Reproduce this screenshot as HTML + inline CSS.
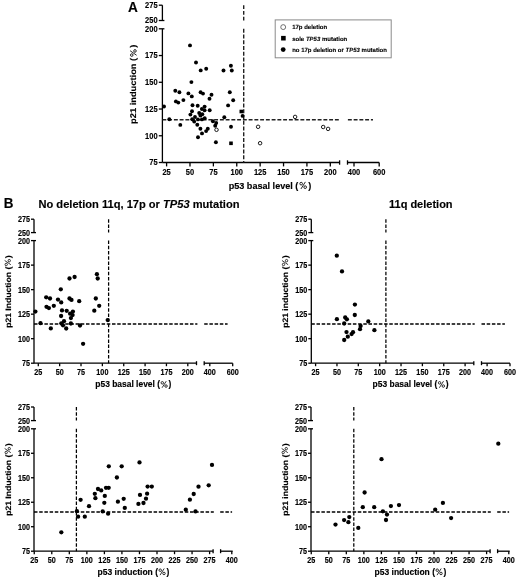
<!DOCTYPE html>
<html><head><meta charset="utf-8"><style>
html,body{margin:0;padding:0;background:#fff;}
svg{display:block;filter:blur(0.35px);}
text{font-family:"Liberation Sans", sans-serif;fill:#000;stroke:#000;stroke-width:0.15px;}
.pct{fill-opacity:0;stroke-opacity:0;}
</style></head><body>
<svg width="520" height="579" viewBox="0 0 520 579">
<line x1="162.40" y1="5.20" x2="162.40" y2="20.50" stroke-width="1.3"  stroke="#000"/>
<line x1="162.40" y1="28.80" x2="162.40" y2="162.50" stroke-width="1.3"  stroke="#000"/>
<line x1="158.80" y1="5.20" x2="162.40" y2="5.20" stroke-width="1.3"  stroke="#000"/>
<text transform="translate(157.60,8.14) scale(0.915,1)" font-size="8.2" text-anchor="end" font-weight="bold">275</text>
<line x1="158.80" y1="20.50" x2="164.40" y2="20.50" stroke-width="1.3"  stroke="#000"/>
<text transform="translate(157.60,23.44) scale(0.915,1)" font-size="8.2" text-anchor="end" font-weight="bold">250</text>
<line x1="158.80" y1="28.80" x2="164.40" y2="28.80" stroke-width="1.3"  stroke="#000"/>
<text transform="translate(157.60,31.74) scale(0.915,1)" font-size="8.2" text-anchor="end" font-weight="bold">200</text>
<line x1="158.80" y1="55.54" x2="162.40" y2="55.54" stroke-width="1.3"  stroke="#000"/>
<text transform="translate(157.60,58.48) scale(0.915,1)" font-size="8.2" text-anchor="end" font-weight="bold">175</text>
<line x1="158.80" y1="82.28" x2="162.40" y2="82.28" stroke-width="1.3"  stroke="#000"/>
<text transform="translate(157.60,85.22) scale(0.915,1)" font-size="8.2" text-anchor="end" font-weight="bold">150</text>
<line x1="158.80" y1="109.02" x2="162.40" y2="109.02" stroke-width="1.3"  stroke="#000"/>
<text transform="translate(157.60,111.96) scale(0.915,1)" font-size="8.2" text-anchor="end" font-weight="bold">125</text>
<line x1="158.80" y1="135.76" x2="162.40" y2="135.76" stroke-width="1.3"  stroke="#000"/>
<text transform="translate(157.60,138.70) scale(0.915,1)" font-size="8.2" text-anchor="end" font-weight="bold">100</text>
<line x1="158.80" y1="162.50" x2="162.40" y2="162.50" stroke-width="1.3"  stroke="#000"/>
<text transform="translate(157.60,165.44) scale(0.915,1)" font-size="8.2" text-anchor="end" font-weight="bold">75</text>
<line x1="162.40" y1="162.50" x2="339.60" y2="162.50" stroke-width="1.3"  stroke="#000"/>
<line x1="347.50" y1="162.50" x2="379.20" y2="162.50" stroke-width="1.3"  stroke="#000"/>
<line x1="339.60" y1="160.30" x2="339.60" y2="164.70" stroke-width="1.3"  stroke="#000"/>
<line x1="347.50" y1="160.30" x2="347.50" y2="164.70" stroke-width="1.3"  stroke="#000"/>
<line x1="166.60" y1="162.50" x2="166.60" y2="166.40" stroke-width="1.3"  stroke="#000"/>
<text transform="translate(166.60,174.60) scale(0.915,1)" font-size="8.2" text-anchor="middle" font-weight="bold">25</text>
<line x1="189.99" y1="162.50" x2="189.99" y2="166.40" stroke-width="1.3"  stroke="#000"/>
<text transform="translate(189.99,174.60) scale(0.915,1)" font-size="8.2" text-anchor="middle" font-weight="bold">50</text>
<line x1="213.38" y1="162.50" x2="213.38" y2="166.40" stroke-width="1.3"  stroke="#000"/>
<text transform="translate(213.38,174.60) scale(0.915,1)" font-size="8.2" text-anchor="middle" font-weight="bold">75</text>
<line x1="236.76" y1="162.50" x2="236.76" y2="166.40" stroke-width="1.3"  stroke="#000"/>
<text transform="translate(236.76,174.60) scale(0.915,1)" font-size="8.2" text-anchor="middle" font-weight="bold">100</text>
<line x1="260.15" y1="162.50" x2="260.15" y2="166.40" stroke-width="1.3"  stroke="#000"/>
<text transform="translate(260.15,174.60) scale(0.915,1)" font-size="8.2" text-anchor="middle" font-weight="bold">125</text>
<line x1="283.54" y1="162.50" x2="283.54" y2="166.40" stroke-width="1.3"  stroke="#000"/>
<text transform="translate(283.54,174.60) scale(0.915,1)" font-size="8.2" text-anchor="middle" font-weight="bold">150</text>
<line x1="306.92" y1="162.50" x2="306.92" y2="166.40" stroke-width="1.3"  stroke="#000"/>
<text transform="translate(306.92,174.60) scale(0.915,1)" font-size="8.2" text-anchor="middle" font-weight="bold">175</text>
<line x1="330.31" y1="162.50" x2="330.31" y2="166.40" stroke-width="1.3"  stroke="#000"/>
<text transform="translate(330.31,174.60) scale(0.915,1)" font-size="8.2" text-anchor="middle" font-weight="bold">200</text>
<line x1="354.00" y1="162.50" x2="354.00" y2="166.40" stroke-width="1.3"  stroke="#000"/>
<text transform="translate(354.00,174.60) scale(0.915,1)" font-size="8.2" text-anchor="middle" font-weight="bold">400</text>
<line x1="379.20" y1="162.50" x2="379.20" y2="166.40" stroke-width="1.3"  stroke="#000"/>
<text transform="translate(379.20,174.60) scale(0.915,1)" font-size="8.2" text-anchor="middle" font-weight="bold">600</text>
<line x1="162.40" y1="119.80" x2="339.60" y2="119.80" stroke-width="1.5" stroke-dasharray="3.9 1.85" stroke="#222"/>
<line x1="347.90" y1="119.80" x2="373.00" y2="119.80" stroke-width="1.5" stroke-dasharray="3.9 1.85" stroke="#222"/>
<line x1="243.70" y1="5.20" x2="243.70" y2="20.50" stroke-width="1.4" stroke-dasharray="3.9 1.85" stroke="#222"/>
<line x1="243.70" y1="28.80" x2="243.70" y2="162.50" stroke-width="1.4" stroke-dasharray="3.9 1.85" stroke="#222"/>
<text x="270.00" y="188.60" font-size="9.1" text-anchor="middle" font-weight="bold" >p53 basal level (<tspan dx="0.7" class="pct">%</tspan><tspan dx="1.1">)</tspan></text>
<text x="0.00" y="0.00" font-size="9.3" text-anchor="middle" font-weight="bold" transform="translate(136.30,84.30) rotate(-90) scale(1,0.9)" style="text-rendering:geometricPrecision">p21 induction (<tspan dx="0.7" class="pct">%</tspan><tspan dx="1.1">)</tspan></text>
<circle cx="190.0" cy="45.4" r="1.95"/>
<circle cx="196.0" cy="62.5" r="1.95"/>
<circle cx="200.7" cy="70.4" r="1.95"/>
<circle cx="206.2" cy="68.7" r="1.95"/>
<circle cx="191.4" cy="82.1" r="1.95"/>
<circle cx="175.3" cy="90.8" r="1.95"/>
<circle cx="179.4" cy="92.2" r="1.95"/>
<circle cx="188.4" cy="93.4" r="1.95"/>
<circle cx="200.6" cy="92.2" r="1.95"/>
<circle cx="203.0" cy="93.6" r="1.95"/>
<circle cx="211.5" cy="94.8" r="1.95"/>
<circle cx="209.5" cy="98.7" r="1.95"/>
<circle cx="191.8" cy="96.4" r="1.95"/>
<circle cx="183.4" cy="100.1" r="1.95"/>
<circle cx="175.9" cy="101.4" r="1.95"/>
<circle cx="178.3" cy="102.6" r="1.95"/>
<circle cx="164.0" cy="106.5" r="1.95"/>
<circle cx="192.5" cy="105.2" r="1.95"/>
<circle cx="197.7" cy="105.8" r="1.95"/>
<circle cx="204.6" cy="106.6" r="1.95"/>
<circle cx="201.9" cy="109.0" r="1.95"/>
<circle cx="204.6" cy="110.3" r="1.95"/>
<circle cx="209.7" cy="110.3" r="1.95"/>
<circle cx="192.0" cy="111.3" r="1.95"/>
<circle cx="190.4" cy="114.6" r="1.95"/>
<circle cx="199.2" cy="113.0" r="1.95"/>
<circle cx="202.3" cy="114.2" r="1.95"/>
<circle cx="200.4" cy="115.5" r="1.95"/>
<circle cx="195.0" cy="117.0" r="1.95"/>
<circle cx="192.2" cy="119.2" r="1.95"/>
<circle cx="194.2" cy="121.6" r="1.95"/>
<circle cx="197.9" cy="119.4" r="1.95"/>
<circle cx="201.9" cy="119.4" r="1.95"/>
<circle cx="204.7" cy="118.3" r="1.95"/>
<circle cx="197.3" cy="124.7" r="1.95"/>
<circle cx="200.4" cy="128.8" r="1.95"/>
<circle cx="207.8" cy="128.8" r="1.95"/>
<circle cx="206.1" cy="131.1" r="1.95"/>
<circle cx="202.0" cy="133.4" r="1.95"/>
<circle cx="198.0" cy="137.3" r="1.95"/>
<circle cx="215.9" cy="142.2" r="1.95"/>
<circle cx="212.9" cy="121.3" r="1.95"/>
<circle cx="216.2" cy="123.0" r="1.95"/>
<circle cx="215.2" cy="125.8" r="1.95"/>
<circle cx="224.3" cy="117.2" r="1.95"/>
<circle cx="229.8" cy="92.3" r="1.95"/>
<circle cx="233.2" cy="100.3" r="1.95"/>
<circle cx="228.1" cy="105.4" r="1.95"/>
<circle cx="223.5" cy="70.5" r="1.95"/>
<circle cx="230.9" cy="65.8" r="1.95"/>
<circle cx="231.8" cy="70.5" r="1.95"/>
<circle cx="231.0" cy="126.8" r="1.95"/>
<circle cx="242.6" cy="115.9" r="1.95"/>
<circle cx="169.3" cy="119.3" r="1.95"/>
<circle cx="180.3" cy="124.9" r="1.95"/>
<circle cx="216.5" cy="129.8" r="1.75" fill="#fff" stroke="#000" stroke-width="0.9"/>
<circle cx="258.1" cy="126.8" r="1.75" fill="#fff" stroke="#000" stroke-width="0.9"/>
<circle cx="260.1" cy="143.2" r="1.75" fill="#fff" stroke="#000" stroke-width="0.9"/>
<circle cx="295.1" cy="116.9" r="1.75" fill="#fff" stroke="#000" stroke-width="0.9"/>
<circle cx="323.2" cy="127.0" r="1.75" fill="#fff" stroke="#000" stroke-width="0.9"/>
<circle cx="328.1" cy="128.9" r="1.75" fill="#fff" stroke="#000" stroke-width="0.9"/>
<rect x="239.5" y="109.7" width="3.6" height="3.6"/>
<rect x="229.2" y="141.5" width="3.6" height="3.6"/>
<line x1="34.00" y1="219.20" x2="34.00" y2="232.60" stroke-width="1.3"  stroke="#000"/>
<line x1="34.00" y1="240.60" x2="34.00" y2="363.20" stroke-width="1.3"  stroke="#000"/>
<line x1="31.00" y1="219.20" x2="34.00" y2="219.20" stroke-width="1.3"  stroke="#000"/>
<text transform="translate(30.00,222.21) scale(0.86,1)" font-size="8.4" text-anchor="end" font-weight="bold">275</text>
<line x1="31.00" y1="232.60" x2="36.00" y2="232.60" stroke-width="1.3"  stroke="#000"/>
<text transform="translate(30.00,235.61) scale(0.86,1)" font-size="8.4" text-anchor="end" font-weight="bold">250</text>
<line x1="31.00" y1="240.60" x2="36.00" y2="240.60" stroke-width="1.3"  stroke="#000"/>
<text transform="translate(30.00,243.61) scale(0.86,1)" font-size="8.4" text-anchor="end" font-weight="bold">200</text>
<line x1="31.00" y1="265.12" x2="34.00" y2="265.12" stroke-width="1.3"  stroke="#000"/>
<text transform="translate(30.00,268.13) scale(0.86,1)" font-size="8.4" text-anchor="end" font-weight="bold">175</text>
<line x1="31.00" y1="289.64" x2="34.00" y2="289.64" stroke-width="1.3"  stroke="#000"/>
<text transform="translate(30.00,292.65) scale(0.86,1)" font-size="8.4" text-anchor="end" font-weight="bold">150</text>
<line x1="31.00" y1="314.16" x2="34.00" y2="314.16" stroke-width="1.3"  stroke="#000"/>
<text transform="translate(30.00,317.17) scale(0.86,1)" font-size="8.4" text-anchor="end" font-weight="bold">125</text>
<line x1="31.00" y1="338.68" x2="34.00" y2="338.68" stroke-width="1.3"  stroke="#000"/>
<text transform="translate(30.00,341.69) scale(0.86,1)" font-size="8.4" text-anchor="end" font-weight="bold">100</text>
<line x1="31.00" y1="363.20" x2="34.00" y2="363.20" stroke-width="1.3"  stroke="#000"/>
<text transform="translate(30.00,366.21) scale(0.86,1)" font-size="8.4" text-anchor="end" font-weight="bold">75</text>
<line x1="34.00" y1="363.20" x2="196.50" y2="363.20" stroke-width="1.3"  stroke="#000"/>
<line x1="204.20" y1="363.20" x2="232.70" y2="363.20" stroke-width="1.3"  stroke="#000"/>
<line x1="196.50" y1="361.20" x2="196.50" y2="365.20" stroke-width="1.3"  stroke="#000"/>
<line x1="204.20" y1="361.20" x2="204.20" y2="365.20" stroke-width="1.3"  stroke="#000"/>
<line x1="38.30" y1="363.20" x2="38.30" y2="366.20" stroke-width="1.3"  stroke="#000"/>
<text transform="translate(38.30,374.90) scale(0.86,1)" font-size="8.4" text-anchor="middle" font-weight="bold">25</text>
<line x1="59.66" y1="363.20" x2="59.66" y2="366.20" stroke-width="1.3"  stroke="#000"/>
<text transform="translate(59.66,374.90) scale(0.86,1)" font-size="8.4" text-anchor="middle" font-weight="bold">50</text>
<line x1="81.01" y1="363.20" x2="81.01" y2="366.20" stroke-width="1.3"  stroke="#000"/>
<text transform="translate(81.01,374.90) scale(0.86,1)" font-size="8.4" text-anchor="middle" font-weight="bold">75</text>
<line x1="102.37" y1="363.20" x2="102.37" y2="366.20" stroke-width="1.3"  stroke="#000"/>
<text transform="translate(102.37,374.90) scale(0.86,1)" font-size="8.4" text-anchor="middle" font-weight="bold">100</text>
<line x1="123.73" y1="363.20" x2="123.73" y2="366.20" stroke-width="1.3"  stroke="#000"/>
<text transform="translate(123.73,374.90) scale(0.86,1)" font-size="8.4" text-anchor="middle" font-weight="bold">125</text>
<line x1="145.09" y1="363.20" x2="145.09" y2="366.20" stroke-width="1.3"  stroke="#000"/>
<text transform="translate(145.09,374.90) scale(0.86,1)" font-size="8.4" text-anchor="middle" font-weight="bold">150</text>
<line x1="166.44" y1="363.20" x2="166.44" y2="366.20" stroke-width="1.3"  stroke="#000"/>
<text transform="translate(166.44,374.90) scale(0.86,1)" font-size="8.4" text-anchor="middle" font-weight="bold">175</text>
<line x1="187.80" y1="363.20" x2="187.80" y2="366.20" stroke-width="1.3"  stroke="#000"/>
<text transform="translate(187.80,374.90) scale(0.86,1)" font-size="8.4" text-anchor="middle" font-weight="bold">200</text>
<line x1="209.80" y1="363.20" x2="209.80" y2="366.20" stroke-width="1.3"  stroke="#000"/>
<text transform="translate(209.80,374.90) scale(0.86,1)" font-size="8.4" text-anchor="middle" font-weight="bold">400</text>
<line x1="232.70" y1="363.20" x2="232.70" y2="366.20" stroke-width="1.3"  stroke="#000"/>
<text transform="translate(232.70,374.90) scale(0.86,1)" font-size="8.4" text-anchor="middle" font-weight="bold">600</text>
<line x1="34.00" y1="323.90" x2="197.40" y2="323.90" stroke-width="1.45" stroke-dasharray="3.5 1.7" stroke="#000"/>
<line x1="204.20" y1="323.90" x2="227.60" y2="323.90" stroke-width="1.45" stroke-dasharray="3.5 1.7" stroke="#000"/>
<line x1="108.60" y1="219.20" x2="108.60" y2="232.60" stroke-width="1.25" stroke-dasharray="3.5 1.7" stroke="#000"/>
<line x1="108.60" y1="240.60" x2="108.60" y2="363.20" stroke-width="1.25" stroke-dasharray="3.5 1.7" stroke="#000"/>
<text x="133.30" y="387.40" font-size="8.45" text-anchor="middle" font-weight="bold" >p53 basal level (<tspan dx="0.35" class="pct">%</tspan><tspan dx="0.55">)</tspan></text>
<text x="0.00" y="0.00" font-size="8.6" text-anchor="middle" font-weight="bold" transform="translate(10.50,291.60) rotate(-90) scale(1,0.92)" style="text-rendering:geometricPrecision">p21 Induction (<tspan dx="0.35" class="pct">%</tspan><tspan dx="0.55">)</tspan></text>
<circle cx="69.5" cy="278.5" r="2.15"/>
<circle cx="74.6" cy="277.0" r="2.15"/>
<circle cx="96.9" cy="274.2" r="2.15"/>
<circle cx="97.7" cy="278.5" r="2.15"/>
<circle cx="60.8" cy="289.3" r="2.15"/>
<circle cx="46.2" cy="297.3" r="2.15"/>
<circle cx="50.0" cy="298.5" r="2.15"/>
<circle cx="58.0" cy="299.6" r="2.15"/>
<circle cx="61.2" cy="302.4" r="2.15"/>
<circle cx="69.5" cy="298.5" r="2.15"/>
<circle cx="71.5" cy="299.9" r="2.15"/>
<circle cx="79.2" cy="301.2" r="2.15"/>
<circle cx="95.8" cy="298.5" r="2.15"/>
<circle cx="99.2" cy="305.8" r="2.15"/>
<circle cx="46.5" cy="306.8" r="2.15"/>
<circle cx="48.9" cy="308.1" r="2.15"/>
<circle cx="53.8" cy="305.8" r="2.15"/>
<circle cx="35.4" cy="311.6" r="2.15"/>
<circle cx="62.0" cy="310.4" r="2.15"/>
<circle cx="66.7" cy="310.8" r="2.15"/>
<circle cx="72.9" cy="311.6" r="2.15"/>
<circle cx="70.1" cy="313.7" r="2.15"/>
<circle cx="72.6" cy="315.1" r="2.15"/>
<circle cx="61.1" cy="316.0" r="2.15"/>
<circle cx="70.9" cy="318.1" r="2.15"/>
<circle cx="94.3" cy="310.7" r="2.15"/>
<circle cx="107.7" cy="320.1" r="2.15"/>
<circle cx="40.5" cy="323.2" r="2.15"/>
<circle cx="64.0" cy="321.2" r="2.15"/>
<circle cx="61.3" cy="323.3" r="2.15"/>
<circle cx="63.0" cy="325.3" r="2.15"/>
<circle cx="70.9" cy="323.5" r="2.15"/>
<circle cx="80.0" cy="325.5" r="2.15"/>
<circle cx="50.8" cy="328.4" r="2.15"/>
<circle cx="66.2" cy="328.5" r="2.15"/>
<circle cx="83.1" cy="343.8" r="2.15"/>
<line x1="311.30" y1="219.20" x2="311.30" y2="232.60" stroke-width="1.3"  stroke="#000"/>
<line x1="311.30" y1="240.60" x2="311.30" y2="363.20" stroke-width="1.3"  stroke="#000"/>
<line x1="308.30" y1="219.20" x2="311.30" y2="219.20" stroke-width="1.3"  stroke="#000"/>
<text transform="translate(307.30,222.21) scale(0.86,1)" font-size="8.4" text-anchor="end" font-weight="bold">275</text>
<line x1="308.30" y1="232.60" x2="313.30" y2="232.60" stroke-width="1.3"  stroke="#000"/>
<text transform="translate(307.30,235.61) scale(0.86,1)" font-size="8.4" text-anchor="end" font-weight="bold">250</text>
<line x1="308.30" y1="240.60" x2="313.30" y2="240.60" stroke-width="1.3"  stroke="#000"/>
<text transform="translate(307.30,243.61) scale(0.86,1)" font-size="8.4" text-anchor="end" font-weight="bold">200</text>
<line x1="308.30" y1="265.12" x2="311.30" y2="265.12" stroke-width="1.3"  stroke="#000"/>
<text transform="translate(307.30,268.13) scale(0.86,1)" font-size="8.4" text-anchor="end" font-weight="bold">175</text>
<line x1="308.30" y1="289.64" x2="311.30" y2="289.64" stroke-width="1.3"  stroke="#000"/>
<text transform="translate(307.30,292.65) scale(0.86,1)" font-size="8.4" text-anchor="end" font-weight="bold">150</text>
<line x1="308.30" y1="314.16" x2="311.30" y2="314.16" stroke-width="1.3"  stroke="#000"/>
<text transform="translate(307.30,317.17) scale(0.86,1)" font-size="8.4" text-anchor="end" font-weight="bold">125</text>
<line x1="308.30" y1="338.68" x2="311.30" y2="338.68" stroke-width="1.3"  stroke="#000"/>
<text transform="translate(307.30,341.69) scale(0.86,1)" font-size="8.4" text-anchor="end" font-weight="bold">100</text>
<line x1="308.30" y1="363.20" x2="311.30" y2="363.20" stroke-width="1.3"  stroke="#000"/>
<text transform="translate(307.30,366.21) scale(0.86,1)" font-size="8.4" text-anchor="end" font-weight="bold">75</text>
<line x1="311.30" y1="363.20" x2="473.80" y2="363.20" stroke-width="1.3"  stroke="#000"/>
<line x1="481.50" y1="363.20" x2="510.00" y2="363.20" stroke-width="1.3"  stroke="#000"/>
<line x1="473.80" y1="361.20" x2="473.80" y2="365.20" stroke-width="1.3"  stroke="#000"/>
<line x1="481.50" y1="361.20" x2="481.50" y2="365.20" stroke-width="1.3"  stroke="#000"/>
<line x1="315.60" y1="363.20" x2="315.60" y2="366.20" stroke-width="1.3"  stroke="#000"/>
<text transform="translate(315.60,374.90) scale(0.86,1)" font-size="8.4" text-anchor="middle" font-weight="bold">25</text>
<line x1="336.96" y1="363.20" x2="336.96" y2="366.20" stroke-width="1.3"  stroke="#000"/>
<text transform="translate(336.96,374.90) scale(0.86,1)" font-size="8.4" text-anchor="middle" font-weight="bold">50</text>
<line x1="358.31" y1="363.20" x2="358.31" y2="366.20" stroke-width="1.3"  stroke="#000"/>
<text transform="translate(358.31,374.90) scale(0.86,1)" font-size="8.4" text-anchor="middle" font-weight="bold">75</text>
<line x1="379.67" y1="363.20" x2="379.67" y2="366.20" stroke-width="1.3"  stroke="#000"/>
<text transform="translate(379.67,374.90) scale(0.86,1)" font-size="8.4" text-anchor="middle" font-weight="bold">100</text>
<line x1="401.03" y1="363.20" x2="401.03" y2="366.20" stroke-width="1.3"  stroke="#000"/>
<text transform="translate(401.03,374.90) scale(0.86,1)" font-size="8.4" text-anchor="middle" font-weight="bold">125</text>
<line x1="422.39" y1="363.20" x2="422.39" y2="366.20" stroke-width="1.3"  stroke="#000"/>
<text transform="translate(422.39,374.90) scale(0.86,1)" font-size="8.4" text-anchor="middle" font-weight="bold">150</text>
<line x1="443.75" y1="363.20" x2="443.75" y2="366.20" stroke-width="1.3"  stroke="#000"/>
<text transform="translate(443.75,374.90) scale(0.86,1)" font-size="8.4" text-anchor="middle" font-weight="bold">175</text>
<line x1="465.10" y1="363.20" x2="465.10" y2="366.20" stroke-width="1.3"  stroke="#000"/>
<text transform="translate(465.10,374.90) scale(0.86,1)" font-size="8.4" text-anchor="middle" font-weight="bold">200</text>
<line x1="487.10" y1="363.20" x2="487.10" y2="366.20" stroke-width="1.3"  stroke="#000"/>
<text transform="translate(487.10,374.90) scale(0.86,1)" font-size="8.4" text-anchor="middle" font-weight="bold">400</text>
<line x1="510.00" y1="363.20" x2="510.00" y2="366.20" stroke-width="1.3"  stroke="#000"/>
<text transform="translate(510.00,374.90) scale(0.86,1)" font-size="8.4" text-anchor="middle" font-weight="bold">600</text>
<line x1="311.30" y1="323.90" x2="474.70" y2="323.90" stroke-width="1.45" stroke-dasharray="3.5 1.7" stroke="#000"/>
<line x1="481.50" y1="323.90" x2="504.90" y2="323.90" stroke-width="1.45" stroke-dasharray="3.5 1.7" stroke="#000"/>
<line x1="385.90" y1="219.20" x2="385.90" y2="232.60" stroke-width="1.25" stroke-dasharray="3.5 1.7" stroke="#000"/>
<line x1="385.90" y1="240.60" x2="385.90" y2="363.20" stroke-width="1.25" stroke-dasharray="3.5 1.7" stroke="#000"/>
<text x="410.60" y="387.40" font-size="8.45" text-anchor="middle" font-weight="bold" >p53 basal level (<tspan dx="0.35" class="pct">%</tspan><tspan dx="0.55">)</tspan></text>
<text x="0.00" y="0.00" font-size="8.6" text-anchor="middle" font-weight="bold" transform="translate(287.80,291.60) rotate(-90) scale(1,0.92)" style="text-rendering:geometricPrecision">p21 induction (<tspan dx="0.35" class="pct">%</tspan><tspan dx="0.55">)</tspan></text>
<circle cx="336.8" cy="255.7" r="2.15"/>
<circle cx="342.0" cy="271.4" r="2.15"/>
<circle cx="354.9" cy="304.6" r="2.15"/>
<circle cx="354.8" cy="315.0" r="2.15"/>
<circle cx="336.9" cy="319.2" r="2.15"/>
<circle cx="345.2" cy="317.5" r="2.15"/>
<circle cx="346.9" cy="319.3" r="2.15"/>
<circle cx="344.2" cy="323.5" r="2.15"/>
<circle cx="368.3" cy="321.4" r="2.15"/>
<circle cx="360.6" cy="326.0" r="2.15"/>
<circle cx="360.0" cy="329.2" r="2.15"/>
<circle cx="374.4" cy="330.2" r="2.15"/>
<circle cx="346.5" cy="332.1" r="2.15"/>
<circle cx="353.0" cy="332.2" r="2.15"/>
<circle cx="351.6" cy="334.1" r="2.15"/>
<circle cx="347.8" cy="336.7" r="2.15"/>
<circle cx="344.2" cy="340.0" r="2.15"/>
<line x1="34.00" y1="407.00" x2="34.00" y2="420.60" stroke-width="1.3"  stroke="#000"/>
<line x1="34.00" y1="428.80" x2="34.00" y2="551.20" stroke-width="1.3"  stroke="#000"/>
<line x1="31.00" y1="407.00" x2="34.00" y2="407.00" stroke-width="1.3"  stroke="#000"/>
<text transform="translate(30.00,410.01) scale(0.86,1)" font-size="8.4" text-anchor="end" font-weight="bold">275</text>
<line x1="31.00" y1="420.60" x2="36.00" y2="420.60" stroke-width="1.3"  stroke="#000"/>
<text transform="translate(30.00,423.61) scale(0.86,1)" font-size="8.4" text-anchor="end" font-weight="bold">250</text>
<line x1="31.00" y1="428.80" x2="36.00" y2="428.80" stroke-width="1.3"  stroke="#000"/>
<text transform="translate(30.00,431.81) scale(0.86,1)" font-size="8.4" text-anchor="end" font-weight="bold">200</text>
<line x1="31.00" y1="453.28" x2="34.00" y2="453.28" stroke-width="1.3"  stroke="#000"/>
<text transform="translate(30.00,456.29) scale(0.86,1)" font-size="8.4" text-anchor="end" font-weight="bold">175</text>
<line x1="31.00" y1="477.76" x2="34.00" y2="477.76" stroke-width="1.3"  stroke="#000"/>
<text transform="translate(30.00,480.77) scale(0.86,1)" font-size="8.4" text-anchor="end" font-weight="bold">150</text>
<line x1="31.00" y1="502.24" x2="34.00" y2="502.24" stroke-width="1.3"  stroke="#000"/>
<text transform="translate(30.00,505.25) scale(0.86,1)" font-size="8.4" text-anchor="end" font-weight="bold">125</text>
<line x1="31.00" y1="526.72" x2="34.00" y2="526.72" stroke-width="1.3"  stroke="#000"/>
<text transform="translate(30.00,529.73) scale(0.86,1)" font-size="8.4" text-anchor="end" font-weight="bold">100</text>
<line x1="31.00" y1="551.20" x2="34.00" y2="551.20" stroke-width="1.3"  stroke="#000"/>
<text transform="translate(30.00,554.21) scale(0.86,1)" font-size="8.4" text-anchor="end" font-weight="bold">75</text>
<line x1="34.00" y1="551.20" x2="213.10" y2="551.20" stroke-width="1.3"  stroke="#000"/>
<line x1="220.60" y1="551.20" x2="232.70" y2="551.20" stroke-width="1.3"  stroke="#000"/>
<line x1="213.10" y1="549.20" x2="213.10" y2="553.20" stroke-width="1.3"  stroke="#000"/>
<line x1="220.60" y1="549.20" x2="220.60" y2="553.20" stroke-width="1.3"  stroke="#000"/>
<line x1="34.25" y1="551.20" x2="34.25" y2="554.20" stroke-width="1.3"  stroke="#000"/>
<text transform="translate(34.25,562.90) scale(0.86,1)" font-size="8.4" text-anchor="middle" font-weight="bold">25</text>
<line x1="51.78" y1="551.20" x2="51.78" y2="554.20" stroke-width="1.3"  stroke="#000"/>
<text transform="translate(51.78,562.90) scale(0.86,1)" font-size="8.4" text-anchor="middle" font-weight="bold">50</text>
<line x1="69.32" y1="551.20" x2="69.32" y2="554.20" stroke-width="1.3"  stroke="#000"/>
<text transform="translate(69.32,562.90) scale(0.86,1)" font-size="8.4" text-anchor="middle" font-weight="bold">75</text>
<line x1="86.86" y1="551.20" x2="86.86" y2="554.20" stroke-width="1.3"  stroke="#000"/>
<text transform="translate(86.86,562.90) scale(0.86,1)" font-size="8.4" text-anchor="middle" font-weight="bold">100</text>
<line x1="104.39" y1="551.20" x2="104.39" y2="554.20" stroke-width="1.3"  stroke="#000"/>
<text transform="translate(104.39,562.90) scale(0.86,1)" font-size="8.4" text-anchor="middle" font-weight="bold">125</text>
<line x1="121.92" y1="551.20" x2="121.92" y2="554.20" stroke-width="1.3"  stroke="#000"/>
<text transform="translate(121.92,562.90) scale(0.86,1)" font-size="8.4" text-anchor="middle" font-weight="bold">150</text>
<line x1="139.46" y1="551.20" x2="139.46" y2="554.20" stroke-width="1.3"  stroke="#000"/>
<text transform="translate(139.46,562.90) scale(0.86,1)" font-size="8.4" text-anchor="middle" font-weight="bold">175</text>
<line x1="157.00" y1="551.20" x2="157.00" y2="554.20" stroke-width="1.3"  stroke="#000"/>
<text transform="translate(157.00,562.90) scale(0.86,1)" font-size="8.4" text-anchor="middle" font-weight="bold">200</text>
<line x1="174.53" y1="551.20" x2="174.53" y2="554.20" stroke-width="1.3"  stroke="#000"/>
<text transform="translate(174.53,562.90) scale(0.86,1)" font-size="8.4" text-anchor="middle" font-weight="bold">225</text>
<line x1="192.06" y1="551.20" x2="192.06" y2="554.20" stroke-width="1.3"  stroke="#000"/>
<text transform="translate(192.06,562.90) scale(0.86,1)" font-size="8.4" text-anchor="middle" font-weight="bold">250</text>
<line x1="209.60" y1="551.20" x2="209.60" y2="554.20" stroke-width="1.3"  stroke="#000"/>
<text transform="translate(209.60,562.90) scale(0.86,1)" font-size="8.4" text-anchor="middle" font-weight="bold">275</text>
<line x1="231.80" y1="551.20" x2="231.80" y2="554.20" stroke-width="1.3"  stroke="#000"/>
<text transform="translate(231.80,562.90) scale(0.86,1)" font-size="8.4" text-anchor="middle" font-weight="bold">400</text>
<line x1="34.00" y1="512.10" x2="213.80" y2="512.10" stroke-width="1.45" stroke-dasharray="3.5 1.7" stroke="#000"/>
<line x1="220.20" y1="512.10" x2="232.10" y2="512.10" stroke-width="1.45" stroke-dasharray="3.5 1.7" stroke="#000"/>
<line x1="76.40" y1="407.00" x2="76.40" y2="420.60" stroke-width="1.25" stroke-dasharray="3.5 1.7" stroke="#000"/>
<line x1="76.40" y1="428.80" x2="76.40" y2="551.20" stroke-width="1.25" stroke-dasharray="3.5 1.7" stroke="#000"/>
<text x="133.40" y="574.80" font-size="8.5" text-anchor="middle" font-weight="bold" >p53 induction (<tspan dx="0.35" class="pct">%</tspan><tspan dx="0.55">)</tspan></text>
<text x="0.00" y="0.00" font-size="8.6" text-anchor="middle" font-weight="bold" transform="translate(10.50,479.60) rotate(-90) scale(1,0.92)" style="text-rendering:geometricPrecision">p21 Induction (<tspan dx="0.35" class="pct">%</tspan><tspan dx="0.55">)</tspan></text>
<circle cx="108.8" cy="466.3" r="2.15"/>
<circle cx="121.7" cy="466.3" r="2.15"/>
<circle cx="116.9" cy="477.5" r="2.15"/>
<circle cx="98.0" cy="489.0" r="2.15"/>
<circle cx="101.2" cy="490.4" r="2.15"/>
<circle cx="106.0" cy="487.8" r="2.15"/>
<circle cx="108.7" cy="487.8" r="2.15"/>
<circle cx="94.8" cy="493.8" r="2.15"/>
<circle cx="104.8" cy="495.9" r="2.15"/>
<circle cx="95.4" cy="498.2" r="2.15"/>
<circle cx="80.6" cy="499.8" r="2.15"/>
<circle cx="104.3" cy="502.8" r="2.15"/>
<circle cx="117.9" cy="501.7" r="2.15"/>
<circle cx="123.7" cy="498.8" r="2.15"/>
<circle cx="89.0" cy="506.2" r="2.15"/>
<circle cx="124.8" cy="507.9" r="2.15"/>
<circle cx="76.9" cy="511.2" r="2.15"/>
<circle cx="102.7" cy="511.4" r="2.15"/>
<circle cx="108.1" cy="513.7" r="2.15"/>
<circle cx="78.1" cy="516.7" r="2.15"/>
<circle cx="84.8" cy="516.7" r="2.15"/>
<circle cx="61.3" cy="532.3" r="2.15"/>
<circle cx="139.5" cy="462.4" r="2.15"/>
<circle cx="147.6" cy="486.6" r="2.15"/>
<circle cx="151.8" cy="486.6" r="2.15"/>
<circle cx="147.1" cy="493.7" r="2.15"/>
<circle cx="140.0" cy="494.9" r="2.15"/>
<circle cx="146.0" cy="498.7" r="2.15"/>
<circle cx="143.5" cy="503.0" r="2.15"/>
<circle cx="138.4" cy="503.9" r="2.15"/>
<circle cx="212.0" cy="464.9" r="2.15"/>
<circle cx="208.7" cy="485.3" r="2.15"/>
<circle cx="198.5" cy="486.7" r="2.15"/>
<circle cx="193.7" cy="494.0" r="2.15"/>
<circle cx="189.9" cy="499.7" r="2.15"/>
<circle cx="185.8" cy="509.7" r="2.15"/>
<circle cx="195.5" cy="511.4" r="2.15"/>
<line x1="311.00" y1="407.00" x2="311.00" y2="420.60" stroke-width="1.3"  stroke="#000"/>
<line x1="311.00" y1="428.80" x2="311.00" y2="551.20" stroke-width="1.3"  stroke="#000"/>
<line x1="308.00" y1="407.00" x2="311.00" y2="407.00" stroke-width="1.3"  stroke="#000"/>
<text transform="translate(307.00,410.01) scale(0.86,1)" font-size="8.4" text-anchor="end" font-weight="bold">275</text>
<line x1="308.00" y1="420.60" x2="313.00" y2="420.60" stroke-width="1.3"  stroke="#000"/>
<text transform="translate(307.00,423.61) scale(0.86,1)" font-size="8.4" text-anchor="end" font-weight="bold">250</text>
<line x1="308.00" y1="428.80" x2="313.00" y2="428.80" stroke-width="1.3"  stroke="#000"/>
<text transform="translate(307.00,431.81) scale(0.86,1)" font-size="8.4" text-anchor="end" font-weight="bold">200</text>
<line x1="308.00" y1="453.28" x2="311.00" y2="453.28" stroke-width="1.3"  stroke="#000"/>
<text transform="translate(307.00,456.29) scale(0.86,1)" font-size="8.4" text-anchor="end" font-weight="bold">175</text>
<line x1="308.00" y1="477.76" x2="311.00" y2="477.76" stroke-width="1.3"  stroke="#000"/>
<text transform="translate(307.00,480.77) scale(0.86,1)" font-size="8.4" text-anchor="end" font-weight="bold">150</text>
<line x1="308.00" y1="502.24" x2="311.00" y2="502.24" stroke-width="1.3"  stroke="#000"/>
<text transform="translate(307.00,505.25) scale(0.86,1)" font-size="8.4" text-anchor="end" font-weight="bold">125</text>
<line x1="308.00" y1="526.72" x2="311.00" y2="526.72" stroke-width="1.3"  stroke="#000"/>
<text transform="translate(307.00,529.73) scale(0.86,1)" font-size="8.4" text-anchor="end" font-weight="bold">100</text>
<line x1="308.00" y1="551.20" x2="311.00" y2="551.20" stroke-width="1.3"  stroke="#000"/>
<text transform="translate(307.00,554.21) scale(0.86,1)" font-size="8.4" text-anchor="end" font-weight="bold">75</text>
<line x1="311.00" y1="551.20" x2="490.10" y2="551.20" stroke-width="1.3"  stroke="#000"/>
<line x1="497.60" y1="551.20" x2="509.70" y2="551.20" stroke-width="1.3"  stroke="#000"/>
<line x1="490.10" y1="549.20" x2="490.10" y2="553.20" stroke-width="1.3"  stroke="#000"/>
<line x1="497.60" y1="549.20" x2="497.60" y2="553.20" stroke-width="1.3"  stroke="#000"/>
<line x1="311.25" y1="551.20" x2="311.25" y2="554.20" stroke-width="1.3"  stroke="#000"/>
<text transform="translate(311.25,562.90) scale(0.86,1)" font-size="8.4" text-anchor="middle" font-weight="bold">25</text>
<line x1="328.78" y1="551.20" x2="328.78" y2="554.20" stroke-width="1.3"  stroke="#000"/>
<text transform="translate(328.78,562.90) scale(0.86,1)" font-size="8.4" text-anchor="middle" font-weight="bold">50</text>
<line x1="346.32" y1="551.20" x2="346.32" y2="554.20" stroke-width="1.3"  stroke="#000"/>
<text transform="translate(346.32,562.90) scale(0.86,1)" font-size="8.4" text-anchor="middle" font-weight="bold">75</text>
<line x1="363.86" y1="551.20" x2="363.86" y2="554.20" stroke-width="1.3"  stroke="#000"/>
<text transform="translate(363.86,562.90) scale(0.86,1)" font-size="8.4" text-anchor="middle" font-weight="bold">100</text>
<line x1="381.39" y1="551.20" x2="381.39" y2="554.20" stroke-width="1.3"  stroke="#000"/>
<text transform="translate(381.39,562.90) scale(0.86,1)" font-size="8.4" text-anchor="middle" font-weight="bold">125</text>
<line x1="398.93" y1="551.20" x2="398.93" y2="554.20" stroke-width="1.3"  stroke="#000"/>
<text transform="translate(398.93,562.90) scale(0.86,1)" font-size="8.4" text-anchor="middle" font-weight="bold">150</text>
<line x1="416.46" y1="551.20" x2="416.46" y2="554.20" stroke-width="1.3"  stroke="#000"/>
<text transform="translate(416.46,562.90) scale(0.86,1)" font-size="8.4" text-anchor="middle" font-weight="bold">175</text>
<line x1="434.00" y1="551.20" x2="434.00" y2="554.20" stroke-width="1.3"  stroke="#000"/>
<text transform="translate(434.00,562.90) scale(0.86,1)" font-size="8.4" text-anchor="middle" font-weight="bold">200</text>
<line x1="451.53" y1="551.20" x2="451.53" y2="554.20" stroke-width="1.3"  stroke="#000"/>
<text transform="translate(451.53,562.90) scale(0.86,1)" font-size="8.4" text-anchor="middle" font-weight="bold">225</text>
<line x1="469.06" y1="551.20" x2="469.06" y2="554.20" stroke-width="1.3"  stroke="#000"/>
<text transform="translate(469.06,562.90) scale(0.86,1)" font-size="8.4" text-anchor="middle" font-weight="bold">250</text>
<line x1="486.60" y1="551.20" x2="486.60" y2="554.20" stroke-width="1.3"  stroke="#000"/>
<text transform="translate(486.60,562.90) scale(0.86,1)" font-size="8.4" text-anchor="middle" font-weight="bold">275</text>
<line x1="508.80" y1="551.20" x2="508.80" y2="554.20" stroke-width="1.3"  stroke="#000"/>
<text transform="translate(508.80,562.90) scale(0.86,1)" font-size="8.4" text-anchor="middle" font-weight="bold">400</text>
<line x1="311.00" y1="512.10" x2="490.80" y2="512.10" stroke-width="1.45" stroke-dasharray="3.5 1.7" stroke="#000"/>
<line x1="497.20" y1="512.10" x2="509.10" y2="512.10" stroke-width="1.45" stroke-dasharray="3.5 1.7" stroke="#000"/>
<line x1="353.80" y1="407.00" x2="353.80" y2="420.60" stroke-width="1.25" stroke-dasharray="3.5 1.7" stroke="#000"/>
<line x1="353.80" y1="428.80" x2="353.80" y2="551.20" stroke-width="1.25" stroke-dasharray="3.5 1.7" stroke="#000"/>
<text x="410.40" y="574.80" font-size="8.5" text-anchor="middle" font-weight="bold" >p53 induction (<tspan dx="0.35" class="pct">%</tspan><tspan dx="0.55">)</tspan></text>
<text x="0.00" y="0.00" font-size="8.6" text-anchor="middle" font-weight="bold" transform="translate(287.50,479.60) rotate(-90) scale(1,0.92)" style="text-rendering:geometricPrecision">p21 induction (<tspan dx="0.35" class="pct">%</tspan><tspan dx="0.55">)</tspan></text>
<circle cx="381.5" cy="459.2" r="2.15"/>
<circle cx="364.6" cy="492.5" r="2.15"/>
<circle cx="362.8" cy="507.2" r="2.15"/>
<circle cx="374.2" cy="507.2" r="2.15"/>
<circle cx="390.9" cy="506.1" r="2.15"/>
<circle cx="399.0" cy="505.1" r="2.15"/>
<circle cx="382.9" cy="511.3" r="2.15"/>
<circle cx="387.0" cy="514.6" r="2.15"/>
<circle cx="386.0" cy="520.0" r="2.15"/>
<circle cx="349.3" cy="517.1" r="2.15"/>
<circle cx="344.1" cy="520.1" r="2.15"/>
<circle cx="348.4" cy="522.2" r="2.15"/>
<circle cx="335.5" cy="524.6" r="2.15"/>
<circle cx="358.3" cy="527.9" r="2.15"/>
<circle cx="435.2" cy="509.7" r="2.15"/>
<circle cx="442.9" cy="502.9" r="2.15"/>
<circle cx="451.1" cy="518.1" r="2.15"/>
<circle cx="498.3" cy="443.7" r="2.15"/>
<rect x="275.2" y="19.9" width="116.0" height="37.9" fill="none" stroke="#8a8a8a" stroke-width="1.0"/>
<circle cx="283.2" cy="27.1" r="2.45" fill="#fff" stroke="#444" stroke-width="0.75"/>
<rect x="281.1" y="35.9" width="4.6" height="4.6"/>
<circle cx="283.2" cy="49.6" r="2.4"/>
<text x="292.20" y="29.20" font-size="6.0" text-anchor="start" font-weight="bold" style="stroke-width:0.12px;text-rendering:geometricPrecision">17p deletion</text>
<text x="292.20" y="40.60" font-size="6.0" text-anchor="start" font-weight="bold" style="stroke-width:0.12px;text-rendering:geometricPrecision">sole <tspan font-style="italic">TP53</tspan> mutation</text>
<text x="292.20" y="52.00" font-size="6.0" text-anchor="start" font-weight="bold" style="stroke-width:0.12px;text-rendering:geometricPrecision">no 17p deletion or <tspan font-style="italic">TP53</tspan> mutation</text>
<text transform="translate(128.00,11.80) scale(0.96,1)" font-size="14.2" text-anchor="start" font-weight="bold">A</text>
<text transform="translate(3.70,207.90) scale(0.92,1)" font-size="14.6" text-anchor="start" font-weight="bold">B</text>
<text x="38.50" y="208.40" font-size="11.1" text-anchor="start" font-weight="bold" >No deletion 11q, 17p or <tspan font-style="italic">TP53</tspan> mutation</text>
<text x="389.00" y="208.40" font-size="11.0" text-anchor="start" font-weight="bold" >11q deletion</text>
<g transform="" fill="none" stroke="#000" stroke-width="0.86"><ellipse cx="301.15" cy="183.66" rx="1.32" ry="1.35"/><ellipse cx="305.19" cy="187.17" rx="1.32" ry="1.35"/><line x1="305.39" y1="181.87" x2="300.94" y2="188.96"/></g>
<g transform="translate(136.30,84.30) rotate(-90) scale(1,0.9)" fill="none" stroke="#000" stroke-width="0.88"><ellipse cx="29.23" cy="-5.04" rx="1.35" ry="1.38"/><ellipse cx="33.37" cy="-1.47" rx="1.35" ry="1.38"/><line x1="33.58" y1="-6.88" x2="29.02" y2="0.37"/></g>
<g transform="" fill="none" stroke="#000" stroke-width="0.80"><ellipse cx="162.29" cy="382.82" rx="1.23" ry="1.25"/><ellipse cx="166.04" cy="386.07" rx="1.23" ry="1.25"/><line x1="166.23" y1="381.15" x2="162.09" y2="387.74"/></g>
<g transform="translate(10.50,291.60) rotate(-90) scale(1,0.92)" fill="none" stroke="#000" stroke-width="0.82"><ellipse cx="27.11" cy="-4.66" rx="1.25" ry="1.27"/><ellipse cx="30.93" cy="-1.36" rx="1.25" ry="1.27"/><line x1="31.12" y1="-6.36" x2="26.91" y2="0.34"/></g>
<g transform="" fill="none" stroke="#000" stroke-width="0.80"><ellipse cx="439.59" cy="382.82" rx="1.23" ry="1.25"/><ellipse cx="443.34" cy="386.07" rx="1.23" ry="1.25"/><line x1="443.53" y1="381.15" x2="439.39" y2="387.74"/></g>
<g transform="translate(287.80,291.60) rotate(-90) scale(1,0.92)" fill="none" stroke="#000" stroke-width="0.82"><ellipse cx="27.11" cy="-4.66" rx="1.25" ry="1.27"/><ellipse cx="30.93" cy="-1.36" rx="1.25" ry="1.27"/><line x1="31.12" y1="-6.36" x2="26.91" y2="0.34"/></g>
<g transform="" fill="none" stroke="#000" stroke-width="0.81"><ellipse cx="160.22" cy="570.19" rx="1.24" ry="1.26"/><ellipse cx="163.99" cy="573.46" rx="1.24" ry="1.26"/><line x1="164.19" y1="568.51" x2="160.02" y2="575.14"/></g>
<g transform="translate(10.50,479.60) rotate(-90) scale(1,0.92)" fill="none" stroke="#000" stroke-width="0.82"><ellipse cx="27.11" cy="-4.66" rx="1.25" ry="1.27"/><ellipse cx="30.93" cy="-1.36" rx="1.25" ry="1.27"/><line x1="31.12" y1="-6.36" x2="26.91" y2="0.34"/></g>
<g transform="" fill="none" stroke="#000" stroke-width="0.81"><ellipse cx="437.22" cy="570.19" rx="1.24" ry="1.26"/><ellipse cx="440.99" cy="573.46" rx="1.24" ry="1.26"/><line x1="441.19" y1="568.51" x2="437.02" y2="575.14"/></g>
<g transform="translate(287.50,479.60) rotate(-90) scale(1,0.92)" fill="none" stroke="#000" stroke-width="0.82"><ellipse cx="27.11" cy="-4.66" rx="1.25" ry="1.27"/><ellipse cx="30.93" cy="-1.36" rx="1.25" ry="1.27"/><line x1="31.12" y1="-6.36" x2="26.91" y2="0.34"/></g>
</svg>
</body></html>
